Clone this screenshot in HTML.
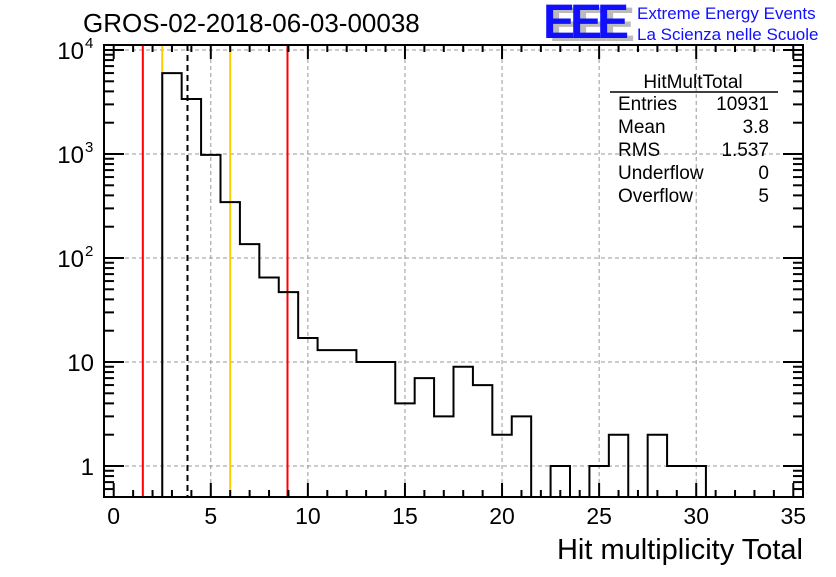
<!DOCTYPE html>
<html><head><meta charset="utf-8"><style>
body{margin:0;background:#fff;width:836px;height:572px;overflow:hidden}
text{font-family:"Liberation Sans",sans-serif}
</style></head><body>
<svg id="chart" width="836" height="572" xmlns="http://www.w3.org/2000/svg">
<text x="83" y="32" font-size="26">GROS-02-2018-06-03-00038</text>
<g>
<text x="549" y="41" font-size="48" font-weight="bold" fill="#bbb" letter-spacing="-5">EEE</text>
<text x="543" y="38" font-size="48" font-weight="bold" fill="#1010ff" letter-spacing="-5">EEE</text>
<text x="637" y="19" font-size="17" fill="#1010ff">Extreme Energy Events</text>
<text x="637" y="40" font-size="17" fill="#1010ff">La Scienza nelle Scuole</text>
</g>
<g id="grid"></g>
<g id="lines"></g>
<path id="hist" fill="none" stroke="#000" stroke-width="2"/>
<g id="axes"></g>
<g font-size="19">
<text x="693" y="88" text-anchor="middle">HitMultTotal</text>
<line x1="610" y1="92" x2="778" y2="92" stroke="#000" stroke-width="1.5"/>
<text x="618" y="110">Entries</text><text x="769" y="110" text-anchor="end">10931</text>
<text x="618" y="133">Mean</text><text x="769" y="133" text-anchor="end">3.8</text>
<text x="618" y="156">RMS</text><text x="769" y="156" text-anchor="end">1.537</text>
<text x="618" y="179">Underflow</text><text x="769" y="179" text-anchor="end">0</text>
<text x="618" y="202">Overflow</text><text x="769" y="202" text-anchor="end">5</text>
</g>
<text x="803" y="559" font-size="29" text-anchor="end">Hit multiplicity Total</text>
</svg>
<script>
const binCenters=[3,4,5,6,7,8,9,10,11,12,13,14,15,16,17,18,19,20,21,22,23,24,25,26,27,28,29,30];
const counts=[6000,3380,980,345,136,65,47,17,13,13,10,10,4,7,3,9,6,2,3,0,1,0,1,2,0,2,1,1];
const xTicks=[0,5,10,15,20,25,30,35];
const yTicks=[1,10,100,1000,10000];
const yTickBase=["1","10","10","10","10"];
const yTickExp=["","","2","3","4"];
const markerX=[1.5,2.5,3.8,6.0,8.95];
const markerColors=["#f00","#fc0","#000","#fc0","#f00"];
const L=104,R=803,T=45,B=497,xmin=-0.5,xmax=35.5;
const X=v=>L+(v-xmin)/(xmax-xmin)*(R-L);
const Y=v=>50+(4-Math.log10(Math.max(v,0.5)))*104;
const NS="http://www.w3.org/2000/svg";
function mk(tag,parent,attrs){const e=document.createElementNS(NS,tag);for(const k in attrs)e.setAttribute(k,attrs[k]);(typeof parent==="string"?document.getElementById(parent):parent).appendChild(e);return e;}
xTicks.forEach(t=>{if(t<=0||t>=35)return;const g=mk('line','grid',{x1:X(t),x2:X(t),y1:T,y2:B,stroke:'#999','stroke-dasharray':'4,3','stroke-width':1});

});
yTicks.forEach(t=>{const g=mk('line','grid',{x1:L,x2:R,y1:Y(t),y2:Y(t),stroke:'#999','stroke-dasharray':'4,3','stroke-width':1});

});
markerX.forEach((m,i)=>{const l=mk('line','lines',{x1:X(m),x2:X(m),y1:T,y2:B,stroke:markerColors[i],'stroke-width':2});
if(markerColors[i]==="#000")l.setAttribute('stroke-dasharray','6,4');

});
let d="";
binCenters.forEach((c,i)=>{const x0=X(c-0.5),x1=X(c+0.5),y=counts[i]>0?Y(counts[i]):B;
d+=(i===0?`M${x0},${B}`:"")+`L${x0},${y}L${x1},${y}`;});
d+=`L${X(binCenters[binCenters.length-1]+0.5)},${B}`;
document.getElementById('hist').setAttribute('d',d);
const fr=mk('rect','axes',{x:L,y:T,width:R-L,height:B-T,fill:'none',stroke:'#000','stroke-width':2});


for(let v=0;v<=35;v++){const len=v%5===0?14:7;
mk('line','axes',{x1:X(v),x2:X(v),y1:B,y2:B-len,stroke:'#000','stroke-width':2});
mk('line','axes',{x1:X(v),x2:X(v),y1:T,y2:T+len,stroke:'#000','stroke-width':2});}
xTicks.forEach(t=>{const tx=mk('text','axes',{x:X(t),y:524,'font-size':23,'text-anchor':'middle'});tx.textContent=t;

});
for(let e=-1;e<=4;e++)for(let m=1;m<10;m++){const v=m*Math.pow(10,e);const y=Y(v);if(y<T||y>B)continue;const len=m===1?20:10;
mk('line','axes',{x1:L,x2:L+len,y1:y,y2:y,stroke:'#000','stroke-width':2});
mk('line','axes',{x1:R,x2:R-len,y1:y,y2:y,stroke:'#000','stroke-width':2});}
yTicks.forEach((t,i)=>{const hasExp=yTickExp[i]!=="";
const tx=mk('text','axes',{x:hasExp?84:94,y:Y(t)+9,'font-size':24,'text-anchor':'end'});tx.textContent=yTickBase[i];


if(hasExp){const ex=mk('text','axes',{x:85,y:Y(t)-2,'font-size':15,'text-anchor':'start'});ex.textContent=yTickExp[i];

}});
</script>
</body></html>
